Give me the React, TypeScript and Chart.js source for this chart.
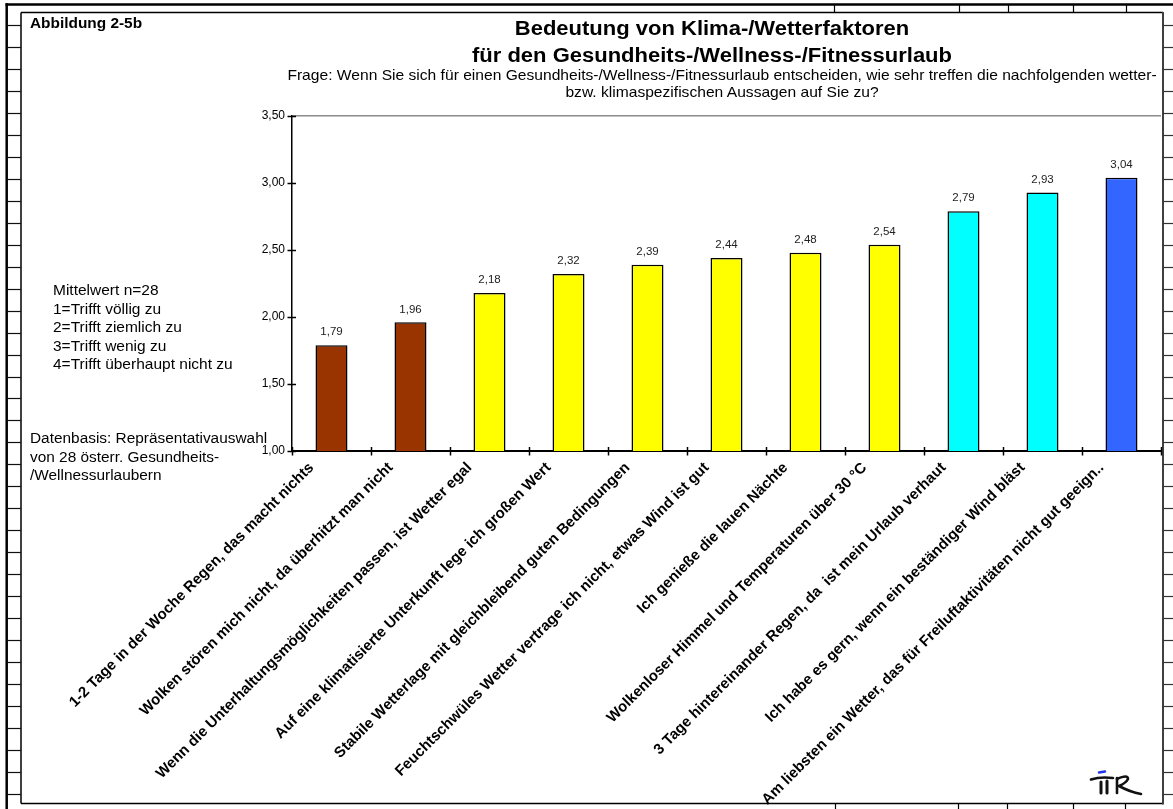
import React, { useEffect, useRef } from "react";
import { Chart, registerables } from "chart.js";

Chart.register(...registerables);

// ---------- data ----------
const categories = [
  "1-2 Tage in der Woche Regen, das macht nichts",
  "Wolken stören mich nicht, da überhitzt man nicht",
  "Wenn die Unterhaltungsmöglichkeiten passen, ist Wetter egal",
  "Auf eine klimatisierte Unterkunft lege ich großen Wert",
  "Stabile Wetterlage mit gleichbleibend guten Bedingungen",
  "Feuchtschwüles Wetter vertrage ich nicht, etwas Wind ist gut",
  "Ich genieße die lauen Nächte",
  "Wolkenloser Himmel und Temperaturen über 30 °C",
  "3 Tage hintereinander Regen, da  ist mein Urlaub verhaut",
  "Ich habe es gern, wenn ein beständiger Wind bläst",
  "Am liebsten ein Wetter, das für Freiluftaktivitäten nicht gut geeign..",
];
const values = [1.79, 1.96, 2.18, 2.32, 2.39, 2.44, 2.48, 2.54, 2.79, 2.93, 3.04];
const barColors = [
  "#993300", "#993300",
  "#FFFF00", "#FFFF00", "#FFFF00", "#FFFF00", "#FFFF00", "#FFFF00",
  "#00FFFF", "#00FFFF",
  "#3366FF",
];
const yMin = 1;
const yMax = 3.5;
const yStep = 0.5;

const figureLabel = "Abbildung 2-5b";
const titleLines = [
  "Bedeutung von Klima-/Wetterfaktoren",
  "für den Gesundheits-/Wellness-/Fitnessurlaub",
];
const questionLines = [
  "Frage: Wenn Sie sich für einen Gesundheits-/Wellness-/Fitnessurlaub entscheiden, wie sehr treffen die nachfolgenden wetter-",
  "bzw. klimaspezifischen Aussagen auf Sie zu?",
];
const scaleNotes = [
  "Mittelwert n=28",
  "1=Trifft völlig zu",
  "2=Trifft ziemlich zu",
  "3=Trifft wenig zu",
  "4=Trifft überhaupt nicht zu",
];
const sourceNotes = [
  "Datenbasis: Repräsentativauswahl",
  "von 28 österr. Gesundheits-",
  "/Wellnessurlaubern",
];

// ---------- helpers ----------
const FONT = "Arial, 'Liberation Sans', Helvetica, sans-serif";
const fmt = (v: number) => v.toFixed(2).replace(".", ",");

function seg(ctx: CanvasRenderingContext2D, x1: number, y1: number, x2: number, y2: number) {
  ctx.beginPath();
  ctx.moveTo(x1, y1);
  ctx.lineTo(x2, y2);
  ctx.stroke();
}

const framePlugin = {
  id: "pageFrame",
  beforeDraw(chart: any) {
    const ctx: CanvasRenderingContext2D = chart.ctx;
    const W = chart.width;
    const H = chart.height;
    ctx.save();
    ctx.fillStyle = "#ffffff";
    ctx.fillRect(0, 0, W, H);
    ctx.strokeStyle = "#000";
    ctx.lineWidth = 2.5;
    seg(ctx, 5.5, 4.5, W, 4.5);
    seg(ctx, 6.7, 3.3, 6.7, H);
    ctx.lineWidth = 1.5;
    seg(ctx, 21, 12.5, 1163, 12.5);
    seg(ctx, 21, 12.5, 21, 803.5);
    seg(ctx, 21, 803.5, 1163, 803.5);
    ctx.strokeStyle = "#404040";
    ctx.lineWidth = 2;
    seg(ctx, 1163, 12, 1163, 804.5);
    ctx.lineWidth = 1.2;
    for (let y = 25; y < 802; y += 21.97) {
      ctx.strokeStyle = "#111";
      seg(ctx, 7, Math.round(y) + 0.5, 21, Math.round(y) + 0.5);
      ctx.strokeStyle = "#333";
      seg(ctx, 1163, Math.round(y) + 0.5, W, Math.round(y) + 0.5);
    }
    ctx.strokeStyle = "#000";
    [834, 959, 1008, 1073, 1126].forEach((x) => seg(ctx, x + 0.5, 4, x + 0.5, 12));
    [835, 958, 1007, 1073, 1125].forEach((x) => seg(ctx, x + 0.5, 803, x + 0.5, H));
    ctx.restore();
  },
  afterDraw(chart: any) {
    const ctx: CanvasRenderingContext2D = chart.ctx;
    ctx.save();
    ctx.lineCap = "round";
    ctx.strokeStyle = "#2233ee";
    ctx.lineWidth = 2.5;
    seg(ctx, 1099, 772.5, 1105, 771.5);
    ctx.strokeStyle = "#111";
    ctx.lineWidth = 2.6;
    ctx.beginPath();
    ctx.moveTo(1091, 779.5);
    ctx.quadraticCurveTo(1100, 776.5, 1113, 778);
    ctx.stroke();
    ctx.lineWidth = 3;
    seg(ctx, 1101, 782, 1101, 793);
    seg(ctx, 1107, 781, 1107, 793);
    ctx.lineWidth = 2.6;
    seg(ctx, 1117, 778, 1117, 793);
    ctx.beginPath();
    ctx.moveTo(1117, 779);
    ctx.quadraticCurveTo(1128, 774, 1128, 779);
    ctx.quadraticCurveTo(1126, 783, 1119, 786);
    ctx.quadraticCurveTo(1130, 792, 1141, 794);
    ctx.stroke();
    ctx.restore();
  },
};

const axisTicksPlugin = {
  id: "axisTicks",
  afterDraw(chart: any) {
    const ctx: CanvasRenderingContext2D = chart.ctx;
    const xs = chart.scales.x;
    const ys = chart.scales.y;
    const area = chart.chartArea;
    ctx.save();
    ctx.strokeStyle = "#000";
    ctx.lineWidth = 1.5;
    ys.ticks.forEach((t: any) => {
      const y = Math.round(ys.getPixelForValue(t.value)) + 0.5;
      seg(ctx, area.left - 4.5, y, area.left + 4, y);
    });
    const w = xs.getPixelForValue(1) - xs.getPixelForValue(0);
    const x0 = xs.getPixelForValue(0) - w / 2;
    for (let i = 0; i <= categories.length; i++) {
      const x = Math.round(x0 + i * w) + 0.5;
      seg(ctx, x, area.bottom - 4, x, area.bottom + 4.5);
    }
    ctx.restore();
  },
};

const valueLabelPlugin = {
  id: "valueLabels",
  afterDatasetsDraw(chart: any) {
    const ctx: CanvasRenderingContext2D = chart.ctx;
    const meta = chart.getDatasetMeta(0);
    ctx.save();
    ctx.font = `11.5px ${FONT}`;
    ctx.fillStyle = "#222";
    ctx.textAlign = "center";
    ctx.textBaseline = "middle";
    meta.data.forEach((bar: any, i: number) => {
      ctx.fillText(fmt(values[i]), bar.x, bar.y - 13);
    });
    ctx.restore();
  },
};

function Txt(props: { x: number; base: number; size: number; bold?: boolean; center?: boolean; text: string; sx?: number }) {
  const { x, base, size, bold, center, text } = props;
  const sx = props.sx ?? 1.1;
  const style: any = {
    position: "absolute",
    top: base - 0.8465 * size,
    fontFamily: FONT,
    fontSize: size,
    lineHeight: `${size}px`,
    fontWeight: bold ? "bold" : "normal",
    whiteSpace: "pre",
    color: "#000",
    transform: `scaleX(${sx})`,
  };
  if (center) {
    style.left = x - 700;
    style.width = 1400;
    style.textAlign = "center";
    style.transformOrigin = "50% 50%";
  } else {
    style.left = x;
    style.transformOrigin = "0 50%";
  }
  return <div style={style}>{text}</div>;
}

export default function App() {
  const canvasRef = useRef<HTMLCanvasElement | null>(null);

  useEffect(() => {
    const canvas = canvasRef.current;
    if (!canvas) return;
    const chart = new Chart(canvas, {
      type: "bar",
      data: {
        labels: categories,
        datasets: [
          {
            data: values,
            backgroundColor: barColors,
            borderColor: "#000",
            borderWidth: 1.5,
            barPercentage: 0.405,
            categoryPercentage: 1,
          },
        ],
      },
      options: {
        responsive: false,
        maintainAspectRatio: false,
        animation: false,
        devicePixelRatio: 1,
        layout: { padding: { left: 0, top: 116, right: 12, bottom: 0 } },
        plugins: {
          legend: { display: false },
          tooltip: { enabled: false },
          title: { display: false },
        },
        scales: {
          x: {
            z: 1,
            grid: { display: true, drawOnChartArea: false, drawTicks: false },
            border: { display: true, color: "#000", width: 2 },
            ticks: {
              autoSkip: false,
              minRotation: 45,
              maxRotation: 45,
              labelOffset: -20,
              padding: 8,
              color: "#000",
              font: { family: FONT, size: 15, weight: "bold" },
            },
            afterFit: (s: any) => {
              s.height = 358;
            },
          },
          y: {
            min: yMin,
            max: yMax,
            ticks: {
              stepSize: yStep,
              padding: 7,
              color: "#000",
              font: { family: FONT, size: 12 },
              callback: (v: any) => fmt(Number(v)),
            },
            grid: {
              drawTicks: false,
              lineWidth: 1.5,
              color: (c: any) =>
                c.tick && Math.abs(c.tick.value - yMax) < 1e-6 ? "#8c8c8c" : "rgba(0,0,0,0)",
            },
            border: { display: true, color: "#000", width: 1.5 },
            afterFit: (s: any) => {
              s.width = 292;
            },
          },
        },
      },
      plugins: [framePlugin, axisTicksPlugin, valueLabelPlugin],
    } as any);
    return () => chart.destroy();
  }, []);

  return (
    <div style={{ position: "absolute", left: 0, top: 0, width: 1173, height: 809, overflow: "hidden", background: "#fff" }}>
      <canvas ref={canvasRef} width={1173} height={809} style={{ position: "absolute", left: 0, top: 0, width: 1173, height: 809 }} />
      <Txt x={30} base={27.5} size={14} bold text={figureLabel} />
      {titleLines.map((t, i) => (
        <Txt key={"t" + i} x={712} base={35 + i * 27} size={20} bold center text={t} />
      ))}
      {questionLines.map((t, i) => (
        <Txt key={"q" + i} x={721.5} base={80.5 + i * 17} size={14.2} center text={t} />
      ))}
      {scaleNotes.map((t, i) => (
        <Txt key={"s" + i} x={53} base={295 + i * 18.6} size={14.1} text={t} />
      ))}
      {sourceNotes.map((t, i) => (
        <Txt key={"d" + i} x={30} base={443 + i * 18.5} size={14} text={t} />
      ))}
    </div>
  );
}
